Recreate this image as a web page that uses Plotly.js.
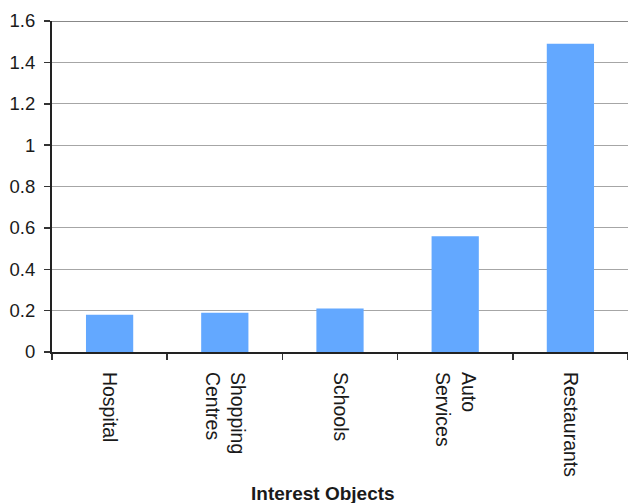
<!DOCTYPE html>
<html>
<head>
<meta charset="utf-8">
<script src="https://cdn.plot.ly/plotly-3.0.1.min.js"></script>
<style>
  html, body { margin: 0; padding: 0; background: #fff; }
  #chart { width: 628px; height: 503px; }
</style>
</head>
<body>
<div id="chart"></div>
<script>
// Interest object categories and their values
const categories = ["Hospital", "Shopping<br>Centres", "Schools", "Auto<br>Services", "Restaurants"];
const values = [0.18, 0.19, 0.21, 0.56, 1.49];
const yTicks = [0, 0.2, 0.4, 0.6, 0.8, 1, 1.2, 1.4, 1.6];
const yTickLabels = ["0", "0.2", "0.4", "0.6", "0.8", "1", "1.2", "1.4", "1.6"];

const trace = {
  type: "bar",
  x: categories,
  y: values,
  marker: { color: "#63a8ff", line: { width: 0 } },
  hoverinfo: "x+y"
};

const layout = {
  width: 628,
  height: 503,
  margin: { l: 52, r: 0, t: 21, b: 151 },
  paper_bgcolor: "#ffffff",
  plot_bgcolor: "#ffffff",
  font: { family: "Liberation Sans, Arial, Helvetica, sans-serif", size: 18, color: "#1a1a1a" },
  bargap: 0.59,
  showlegend: false,
  xaxis: {
    type: "category",
    tickangle: 90,
    ticks: "outside",
    tickson: "boundaries",
    ticklen: 6,
    tickcolor: "#333",
    tickwidth: 1.5,
    ticklabelstandoff: 14,
    showline: true,
    linecolor: "#222",
    linewidth: 2,
    showgrid: false,
    zeroline: false,
    tickfont: { size: 19.5 },
    automargin: false
  },
  yaxis: {
    range: [0, 1.6],
    tickvals: yTicks,
    ticktext: yTickLabels,
    ticks: "outside",
    ticklen: 6,
    tickcolor: "#333",
    tickwidth: 1.5,
    ticklabelstandoff: 5,
    showline: true,
    linecolor: "#222",
    linewidth: 2,
    showgrid: true,
    gridcolor: "#a6a6a6",
    gridwidth: 1,
    zeroline: false,
    tickfont: { size: 18.5 },
    automargin: false
  },
  shapes: [
    {
      type: "line", xref: "paper", yref: "y",
      x0: 0, x1: 1, y0: 1.6, y1: 1.6,
      line: { color: "#888888", width: 2 }
    }
  ],
  annotations: [
    {
      text: "<b>Interest Objects</b>",
      xref: "paper", yref: "paper",
      x: 0.47, y: 0,
      xanchor: "center", yanchor: "top",
      yshift: -129,
      showarrow: false,
      font: { size: 19, color: "#1a1a1a" }
    }
  ]
};

Plotly.newPlot("chart", [trace], layout, { displayModeBar: false, staticPlot: true });
</script>
</body>
</html>
